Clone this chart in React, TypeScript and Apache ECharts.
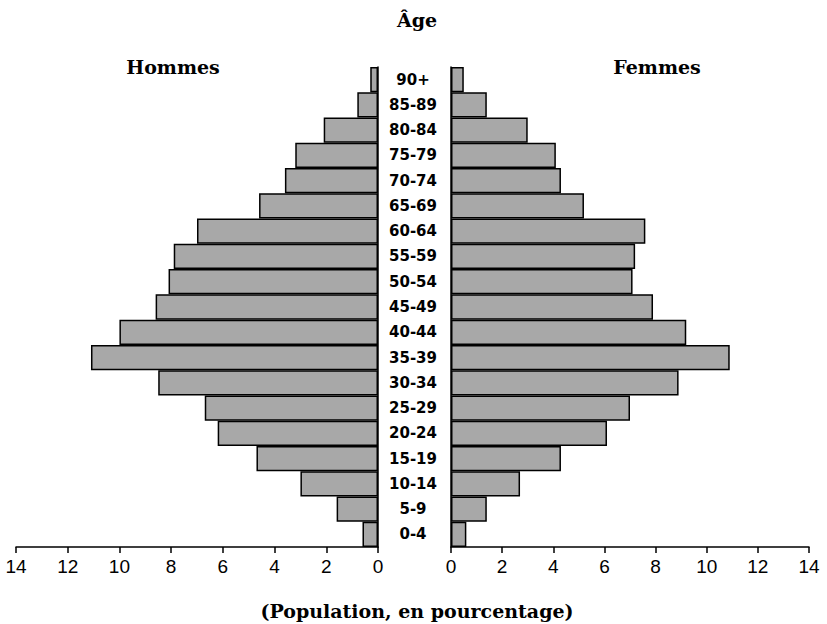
import React, { useEffect, useRef } from "react";
import * as echarts from "echarts";

const ageGroups = [
  "0-4", "5-9", "10-14", "15-19", "20-24", "25-29", "30-34", "35-39", "40-44",
  "45-49", "50-54", "55-59", "60-64", "65-69", "70-74", "75-79", "80-84", "85-89", "90+",
];
const hommes = [0.6, 1.6, 3.0, 4.7, 6.2, 6.7, 8.5, 11.1, 10.0, 8.6, 8.1, 7.9, 7.0, 4.6, 3.6, 3.2, 2.1, 0.8, 0.3];
const femmes = [0.6, 1.4, 2.7, 4.3, 6.1, 7.0, 8.9, 10.9, 9.2, 7.9, 7.1, 7.2, 7.6, 5.2, 4.3, 4.1, 3.0, 1.4, 0.5];

const titleText = "Âge";
const leftLabel = "Hommes";
const rightLabel = "Femmes";
const xAxisTitle = "(Population, en pourcentage)";

export default function App() {
  const ref = useRef<HTMLDivElement>(null);
  useEffect(() => {
    if (!ref.current) return;
    const chart = echarts.init(ref.current, null, { renderer: "svg" });
    const serif = "DejaVu Serif";
    const sans = "Liberation Sans";
    const barStyle = { color: "#a8a8a8", borderColor: "#000", borderWidth: 1.5 };
    const titleStyle = { fontFamily: serif, fontWeight: "bold" as const, fontSize: 19, color: "#000" };
    const xCommon = {
      type: "value" as const,
      min: 0,
      max: 14,
      interval: 2,
      splitLine: { show: false },
      axisLine: { show: true, lineStyle: { color: "#000", width: 1.5 } },
      axisTick: { show: true, length: 6, lineStyle: { color: "#000", width: 1.5 } },
      axisLabel: { color: "#000", fontSize: 19, fontFamily: sans, margin: 10 },
    };
    chart.setOption({
      animation: false,
      backgroundColor: "#fff",
      title: [
        { text: titleText, left: 412, top: 5, textAlign: "center", textStyle: titleStyle },
        { text: leftLabel, left: 168, top: 52, textAlign: "center", textStyle: titleStyle },
        { text: rightLabel, left: 652, top: 52, textAlign: "center", textStyle: titleStyle },
        { text: xAxisTitle, left: 412, top: 596, textAlign: "center", textStyle: titleStyle },
      ],
      grid: [
        { left: 16, top: 67, width: 362, height: 480 },
        { left: 451, top: 67, width: 358, height: 480 },
      ],
      xAxis: [
        { ...xCommon, gridIndex: 0, inverse: true },
        { ...xCommon, gridIndex: 1 },
      ],
      yAxis: [
        {
          type: "category",
          gridIndex: 0,
          position: "right",
          data: ageGroups,
          axisLine: { show: true, onZero: false, lineStyle: { color: "#000", width: 1.5 } },
          axisTick: { show: false },
          axisLabel: { show: false },
        },
        {
          type: "category",
          gridIndex: 1,
          position: "left",
          data: ageGroups,
          axisLine: { show: true, onZero: false, lineStyle: { color: "#000", width: 1.5 } },
          axisTick: { show: false },
          axisLabel: {
            show: true,
            align: "center",
            margin: 38,
            color: "#000",
            fontSize: 15,
            fontWeight: "bold",
            fontFamily: "DejaVu Sans",
          },
        },
      ],
      series: [
        { type: "bar", xAxisIndex: 0, yAxisIndex: 0, data: hommes, barCategoryGap: "0%", itemStyle: barStyle },
        { type: "bar", xAxisIndex: 1, yAxisIndex: 1, data: femmes, barCategoryGap: "0%", itemStyle: barStyle },
      ],
    });
    return () => chart.dispose();
  }, []);
  return (
    <div
      ref={ref}
      style={{ position: "fixed", left: 0, top: 0, width: 827, height: 624, background: "#fff" }}
    />
  );
}
